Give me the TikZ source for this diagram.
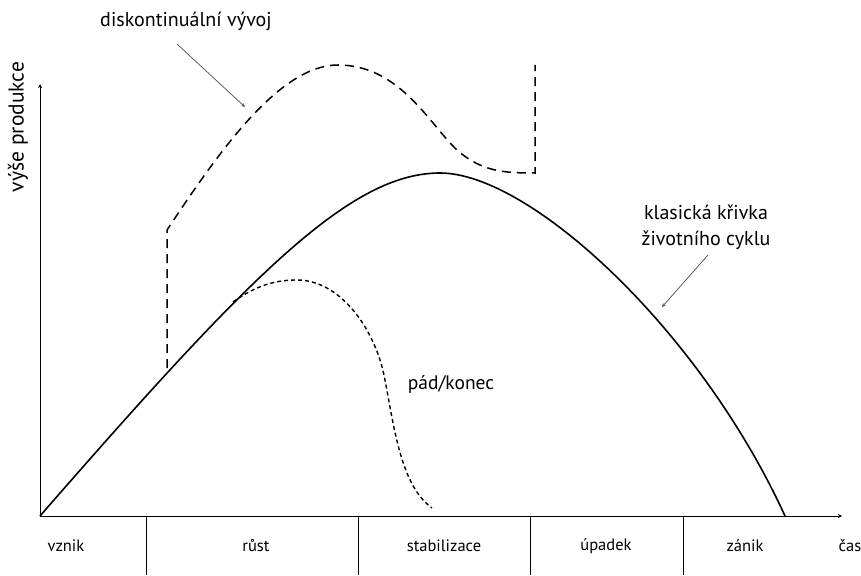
\documentclass[tikz,border=0pt]{standalone}
\usepackage{fontspec}
\setmainfont{PT Sans}
\usetikzlibrary{arrows,positioning,calc}

\tikzset{
  phase/.style={font=\fontsize{16.5}{18}\selectfont},
  note/.style={font=\fontsize{20}{26}\selectfont, align=center},
  pointer/.style={->, >=stealth, draw=black!70, line width=0.7pt},
  lifecurve/.style={line width=1.6pt},
  jumpcurve/.style={line width=1.5pt, dash pattern=on 9pt off 6pt},
  fallcurve/.style={line width=1.4pt, dash pattern=on 4pt off 3pt},
}

\begin{document}
\begin{tikzpicture}[x=1pt, y=-1pt]
            \useasboundingbox (0,0) rectangle (861,575);
            % axes
            \coordinate (o) at (40,516);
            \draw[->, >=stealth, line width=0.9pt] (o) -- (40,84) coordinate (ytip);
            \draw[->, >=stealth, line width=0.9pt] (o) -- (842,516) coordinate (xtip);
            \node[font=\fontsize{21.5}{24}\selectfont, rotate=90] (ylab) at (18,127) {výše produkce};
            % phases below the time axis
            \foreach \x in {146, 358, 530, 683} {
                \draw[line width=0.8pt] (\x,516) -- (\x,575);
            }
            \node[phase] (vz) at (66,546) {vznik};
            \node[phase] (ru) at (256,546) {růst};
            \node[phase] (st) at (444,546) {stabilizace};
            \node[phase] (up) at (606,546) {úpadek};
            \node[phase] (za) at (745,546) {zánik};
            \node[phase] (cas) at (850,546) {čas};
            % classic life cycle
            \draw[lifecurve] (o) .. controls (250,275) and (350,173) .. (440,173)
                .. controls (530,173) and (700,330) .. (785,516);
            % discontinuous development
            \coordinate (j0) at (167,368);
            \draw[jumpcurve] (j0) -- (167,230) .. controls (220,150) and (280,65) .. (338,65)
                .. controls (400,65) and (430,125) .. (457,150)
                .. controls (482,172) and (505,173) .. (535,173) -- (535,65);
            % fall / end
            \draw[fallcurve] (233,302) .. controls (258,284) and (278,280) .. (297,280)
                .. controls (340,280) and (374,328) .. (384,375)
                .. controls (394,425) and (400,485) .. (432,508);
            % labels
            \node[note] (disk) at (186,21) {diskontinuální vývoj};
            \coordinate (diskend) at (245,107);
            \draw[pointer] (177,44) -- (diskend);
            \node[note] (klas) at (706,227) {klasická křivka\\životního cyklu};
            \coordinate (klasend) at (662,307);
            \draw[pointer] (708,255) -- (klasend);
            \node[note, font=\fontsize{19.5}{24}\selectfont] (pad) at (451,384) {pád/konec};
        \end{tikzpicture}
\end{document}
